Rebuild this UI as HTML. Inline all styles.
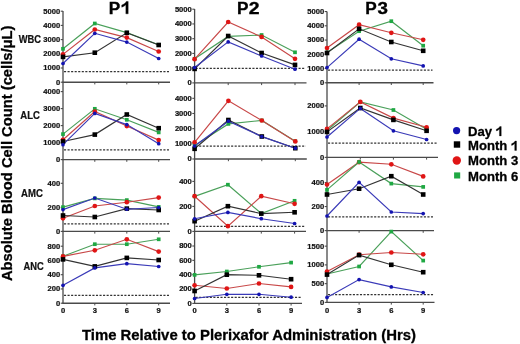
<!DOCTYPE html>
<html><head><meta charset="utf-8"><style>
html,body{margin:0;padding:0;background:#fff;}
body{width:520px;height:344px;overflow:hidden;}
svg{display:block;will-change:transform;}
text{font-family:"Liberation Sans", sans-serif;font-weight:bold;fill:#111;stroke:#111;stroke-width:0.22px;}
.t{font-size:7.6px;}
.r{font-size:10px;}
.p{font-size:17.2px;fill:#000;stroke:#000;stroke-width:0.35px;}
.ax{font-size:14.8px;fill:#000;stroke:#000;stroke-width:0.3px;}
.lg{font-size:13.1px;fill:#000;stroke:#000;stroke-width:0.3px;}
</style></head><body>
<svg width="520" height="344" viewBox="0 0 520 344">
<rect width="520" height="344" fill="#fff"/>
<line x1="63" y1="11.1" x2="63" y2="303.6" stroke="#4a4a4a" stroke-width="1.3"/>
<line x1="194.6" y1="9.1" x2="194.6" y2="304.1" stroke="#4a4a4a" stroke-width="1.3"/>
<line x1="327" y1="11.4" x2="327" y2="303.1" stroke="#4a4a4a" stroke-width="1.3"/>
<line x1="62.4" y1="82.2" x2="170" y2="82.2" stroke="#4a4a4a" stroke-width="1.4"/>
<line x1="94.8" y1="82.2" x2="94.8" y2="84.4" stroke="#4a4a4a" stroke-width="1"/>
<line x1="126.8" y1="82.2" x2="126.8" y2="84.4" stroke="#4a4a4a" stroke-width="1"/>
<line x1="158.7" y1="82.2" x2="158.7" y2="84.4" stroke="#4a4a4a" stroke-width="1"/>
<line x1="60.7" y1="82.20" x2="63" y2="82.20" stroke="#4a4a4a" stroke-width="1.1"/>
<text x="60.2" y="84.60" text-anchor="end" class="t">0</text>
<line x1="60.7" y1="68.00" x2="63" y2="68.00" stroke="#4a4a4a" stroke-width="1.1"/>
<text x="60.2" y="70.40" text-anchor="end" class="t">1000</text>
<line x1="60.7" y1="53.80" x2="63" y2="53.80" stroke="#4a4a4a" stroke-width="1.1"/>
<text x="60.2" y="56.20" text-anchor="end" class="t">2000</text>
<line x1="60.7" y1="39.60" x2="63" y2="39.60" stroke="#4a4a4a" stroke-width="1.1"/>
<text x="60.2" y="42.00" text-anchor="end" class="t">3000</text>
<line x1="60.7" y1="25.40" x2="63" y2="25.40" stroke="#4a4a4a" stroke-width="1.1"/>
<text x="60.2" y="27.80" text-anchor="end" class="t">4000</text>
<line x1="60.7" y1="11.20" x2="63" y2="11.20" stroke="#4a4a4a" stroke-width="1.1"/>
<text x="60.2" y="13.60" text-anchor="end" class="t">5000</text>
<line x1="64" y1="71.6" x2="169" y2="71.6" stroke="#333" stroke-width="1.3" stroke-dasharray="2.1 1.45"/>
<line x1="194.0" y1="82.9" x2="306.5" y2="82.9" stroke="#4a4a4a" stroke-width="1.4"/>
<line x1="228.2" y1="82.9" x2="228.2" y2="85.10000000000001" stroke="#4a4a4a" stroke-width="1"/>
<line x1="261.6" y1="82.9" x2="261.6" y2="85.10000000000001" stroke="#4a4a4a" stroke-width="1"/>
<line x1="295.0" y1="82.9" x2="295.0" y2="85.10000000000001" stroke="#4a4a4a" stroke-width="1"/>
<line x1="192.29999999999998" y1="82.90" x2="194.6" y2="82.90" stroke="#4a4a4a" stroke-width="1.1"/>
<text x="191.79999999999998" y="85.30" text-anchor="end" class="t">0</text>
<line x1="192.29999999999998" y1="68.16" x2="194.6" y2="68.16" stroke="#4a4a4a" stroke-width="1.1"/>
<text x="191.79999999999998" y="70.56" text-anchor="end" class="t">1000</text>
<line x1="192.29999999999998" y1="53.42" x2="194.6" y2="53.42" stroke="#4a4a4a" stroke-width="1.1"/>
<text x="191.79999999999998" y="55.82" text-anchor="end" class="t">2000</text>
<line x1="192.29999999999998" y1="38.68" x2="194.6" y2="38.68" stroke="#4a4a4a" stroke-width="1.1"/>
<text x="191.79999999999998" y="41.08" text-anchor="end" class="t">3000</text>
<line x1="192.29999999999998" y1="23.94" x2="194.6" y2="23.94" stroke="#4a4a4a" stroke-width="1.1"/>
<text x="191.79999999999998" y="26.34" text-anchor="end" class="t">4000</text>
<line x1="192.29999999999998" y1="9.20" x2="194.6" y2="9.20" stroke="#4a4a4a" stroke-width="1.1"/>
<text x="191.79999999999998" y="11.60" text-anchor="end" class="t">5000</text>
<line x1="195.6" y1="68.4" x2="305.5" y2="68.4" stroke="#333" stroke-width="1.3" stroke-dasharray="2.1 1.45"/>
<line x1="326.4" y1="82.8" x2="433.5" y2="82.8" stroke="#4a4a4a" stroke-width="1.4"/>
<line x1="359.1" y1="82.8" x2="359.1" y2="85.0" stroke="#4a4a4a" stroke-width="1"/>
<line x1="391.3" y1="82.8" x2="391.3" y2="85.0" stroke="#4a4a4a" stroke-width="1"/>
<line x1="423.2" y1="82.8" x2="423.2" y2="85.0" stroke="#4a4a4a" stroke-width="1"/>
<line x1="324.7" y1="82.80" x2="327" y2="82.80" stroke="#4a4a4a" stroke-width="1.1"/>
<text x="324.2" y="85.20" text-anchor="end" class="t">0</text>
<line x1="324.7" y1="68.55" x2="327" y2="68.55" stroke="#4a4a4a" stroke-width="1.1"/>
<text x="324.2" y="70.95" text-anchor="end" class="t">1000</text>
<line x1="324.7" y1="54.30" x2="327" y2="54.30" stroke="#4a4a4a" stroke-width="1.1"/>
<text x="324.2" y="56.70" text-anchor="end" class="t">2000</text>
<line x1="324.7" y1="40.05" x2="327" y2="40.05" stroke="#4a4a4a" stroke-width="1.1"/>
<text x="324.2" y="42.45" text-anchor="end" class="t">3000</text>
<line x1="324.7" y1="25.80" x2="327" y2="25.80" stroke="#4a4a4a" stroke-width="1.1"/>
<text x="324.2" y="28.20" text-anchor="end" class="t">4000</text>
<line x1="324.7" y1="11.55" x2="327" y2="11.55" stroke="#4a4a4a" stroke-width="1.1"/>
<text x="324.2" y="13.95" text-anchor="end" class="t">5000</text>
<line x1="328" y1="70.1" x2="432.5" y2="70.1" stroke="#333" stroke-width="1.3" stroke-dasharray="2.1 1.45"/>
<line x1="62.4" y1="159.6" x2="170" y2="159.6" stroke="#4a4a4a" stroke-width="1.4"/>
<line x1="94.8" y1="159.6" x2="94.8" y2="161.79999999999998" stroke="#4a4a4a" stroke-width="1"/>
<line x1="126.8" y1="159.6" x2="126.8" y2="161.79999999999998" stroke="#4a4a4a" stroke-width="1"/>
<line x1="158.7" y1="159.6" x2="158.7" y2="161.79999999999998" stroke="#4a4a4a" stroke-width="1"/>
<line x1="60.7" y1="159.60" x2="63" y2="159.60" stroke="#4a4a4a" stroke-width="1.1"/>
<text x="60.2" y="162.00" text-anchor="end" class="t">0</text>
<line x1="60.7" y1="142.60" x2="63" y2="142.60" stroke="#4a4a4a" stroke-width="1.1"/>
<text x="60.2" y="145.00" text-anchor="end" class="t">1000</text>
<line x1="60.7" y1="125.60" x2="63" y2="125.60" stroke="#4a4a4a" stroke-width="1.1"/>
<text x="60.2" y="128.00" text-anchor="end" class="t">2000</text>
<line x1="60.7" y1="108.60" x2="63" y2="108.60" stroke="#4a4a4a" stroke-width="1.1"/>
<text x="60.2" y="111.00" text-anchor="end" class="t">3000</text>
<line x1="60.7" y1="91.60" x2="63" y2="91.60" stroke="#4a4a4a" stroke-width="1.1"/>
<text x="60.2" y="94.00" text-anchor="end" class="t">4000</text>
<line x1="64" y1="149.9" x2="169" y2="149.9" stroke="#333" stroke-width="1.3" stroke-dasharray="2.1 1.45"/>
<line x1="194.0" y1="159.0" x2="306.8" y2="159.0" stroke="#4a4a4a" stroke-width="1.4"/>
<line x1="228.4" y1="159.0" x2="228.4" y2="161.2" stroke="#4a4a4a" stroke-width="1"/>
<line x1="261.8" y1="159.0" x2="261.8" y2="161.2" stroke="#4a4a4a" stroke-width="1"/>
<line x1="295.3" y1="159.0" x2="295.3" y2="161.2" stroke="#4a4a4a" stroke-width="1"/>
<line x1="192.29999999999998" y1="159.00" x2="194.6" y2="159.00" stroke="#4a4a4a" stroke-width="1.1"/>
<text x="191.79999999999998" y="161.40" text-anchor="end" class="t">0</text>
<line x1="192.29999999999998" y1="143.83" x2="194.6" y2="143.83" stroke="#4a4a4a" stroke-width="1.1"/>
<text x="191.79999999999998" y="146.23" text-anchor="end" class="t">1000</text>
<line x1="192.29999999999998" y1="128.66" x2="194.6" y2="128.66" stroke="#4a4a4a" stroke-width="1.1"/>
<text x="191.79999999999998" y="131.06" text-anchor="end" class="t">2000</text>
<line x1="192.29999999999998" y1="113.49" x2="194.6" y2="113.49" stroke="#4a4a4a" stroke-width="1.1"/>
<text x="191.79999999999998" y="115.89" text-anchor="end" class="t">3000</text>
<line x1="192.29999999999998" y1="98.32" x2="194.6" y2="98.32" stroke="#4a4a4a" stroke-width="1.1"/>
<text x="191.79999999999998" y="100.72" text-anchor="end" class="t">4000</text>
<line x1="195.6" y1="146.1" x2="305.8" y2="146.1" stroke="#333" stroke-width="1.3" stroke-dasharray="2.1 1.45"/>
<line x1="326.4" y1="157.4" x2="438" y2="157.4" stroke="#4a4a4a" stroke-width="1.4"/>
<line x1="360.3" y1="157.4" x2="360.3" y2="159.6" stroke="#4a4a4a" stroke-width="1"/>
<line x1="393.4" y1="157.4" x2="393.4" y2="159.6" stroke="#4a4a4a" stroke-width="1"/>
<line x1="426.6" y1="157.4" x2="426.6" y2="159.6" stroke="#4a4a4a" stroke-width="1"/>
<line x1="324.7" y1="157.40" x2="327" y2="157.40" stroke="#4a4a4a" stroke-width="1.1"/>
<text x="324.2" y="159.80" text-anchor="end" class="t">0</text>
<line x1="324.7" y1="131.65" x2="327" y2="131.65" stroke="#4a4a4a" stroke-width="1.1"/>
<text x="324.2" y="134.05" text-anchor="end" class="t">1000</text>
<line x1="324.7" y1="105.90" x2="327" y2="105.90" stroke="#4a4a4a" stroke-width="1.1"/>
<text x="324.2" y="108.30" text-anchor="end" class="t">2000</text>
<line x1="328" y1="143.2" x2="437" y2="143.2" stroke="#333" stroke-width="1.3" stroke-dasharray="2.1 1.45"/>
<line x1="62.4" y1="231.4" x2="170" y2="231.4" stroke="#4a4a4a" stroke-width="1.4"/>
<line x1="94.8" y1="231.4" x2="94.8" y2="233.6" stroke="#4a4a4a" stroke-width="1"/>
<line x1="126.8" y1="231.4" x2="126.8" y2="233.6" stroke="#4a4a4a" stroke-width="1"/>
<line x1="158.7" y1="231.4" x2="158.7" y2="233.6" stroke="#4a4a4a" stroke-width="1"/>
<line x1="60.7" y1="231.40" x2="63" y2="231.40" stroke="#4a4a4a" stroke-width="1.1"/>
<text x="60.2" y="233.80" text-anchor="end" class="t">0</text>
<line x1="60.7" y1="207.35" x2="63" y2="207.35" stroke="#4a4a4a" stroke-width="1.1"/>
<text x="60.2" y="209.75" text-anchor="end" class="t">200</text>
<line x1="60.7" y1="183.30" x2="63" y2="183.30" stroke="#4a4a4a" stroke-width="1.1"/>
<text x="60.2" y="185.70" text-anchor="end" class="t">400</text>
<line x1="64" y1="223.8" x2="169" y2="223.8" stroke="#333" stroke-width="1.3" stroke-dasharray="2.1 1.45"/>
<line x1="194.0" y1="231.4" x2="306" y2="231.4" stroke="#4a4a4a" stroke-width="1.4"/>
<line x1="227.9" y1="231.4" x2="227.9" y2="233.6" stroke="#4a4a4a" stroke-width="1"/>
<line x1="261.3" y1="231.4" x2="261.3" y2="233.6" stroke="#4a4a4a" stroke-width="1"/>
<line x1="294.6" y1="231.4" x2="294.6" y2="233.6" stroke="#4a4a4a" stroke-width="1"/>
<line x1="192.29999999999998" y1="231.40" x2="194.6" y2="231.40" stroke="#4a4a4a" stroke-width="1.1"/>
<text x="191.79999999999998" y="233.80" text-anchor="end" class="t">0</text>
<line x1="192.29999999999998" y1="206.40" x2="194.6" y2="206.40" stroke="#4a4a4a" stroke-width="1.1"/>
<text x="191.79999999999998" y="208.80" text-anchor="end" class="t">200</text>
<line x1="192.29999999999998" y1="181.40" x2="194.6" y2="181.40" stroke="#4a4a4a" stroke-width="1.1"/>
<text x="191.79999999999998" y="183.80" text-anchor="end" class="t">400</text>
<line x1="195.6" y1="226.4" x2="305" y2="226.4" stroke="#333" stroke-width="1.3" stroke-dasharray="2.1 1.45"/>
<line x1="326.4" y1="230.6" x2="434" y2="230.6" stroke="#4a4a4a" stroke-width="1.4"/>
<line x1="359.1" y1="230.6" x2="359.1" y2="232.79999999999998" stroke="#4a4a4a" stroke-width="1"/>
<line x1="391.3" y1="230.6" x2="391.3" y2="232.79999999999998" stroke="#4a4a4a" stroke-width="1"/>
<line x1="423.2" y1="230.6" x2="423.2" y2="232.79999999999998" stroke="#4a4a4a" stroke-width="1"/>
<line x1="324.7" y1="230.60" x2="327" y2="230.60" stroke="#4a4a4a" stroke-width="1.1"/>
<text x="324.2" y="233.00" text-anchor="end" class="t">0</text>
<line x1="324.7" y1="206.55" x2="327" y2="206.55" stroke="#4a4a4a" stroke-width="1.1"/>
<text x="324.2" y="208.95" text-anchor="end" class="t">200</text>
<line x1="324.7" y1="182.50" x2="327" y2="182.50" stroke="#4a4a4a" stroke-width="1.1"/>
<text x="324.2" y="184.90" text-anchor="end" class="t">400</text>
<line x1="328" y1="216.9" x2="433" y2="216.9" stroke="#333" stroke-width="1.3" stroke-dasharray="2.1 1.45"/>
<line x1="62.4" y1="303.2" x2="170" y2="303.2" stroke="#4a4a4a" stroke-width="1.4"/>
<line x1="94.8" y1="303.2" x2="94.8" y2="305.4" stroke="#4a4a4a" stroke-width="1"/>
<line x1="126.8" y1="303.2" x2="126.8" y2="305.4" stroke="#4a4a4a" stroke-width="1"/>
<line x1="158.7" y1="303.2" x2="158.7" y2="305.4" stroke="#4a4a4a" stroke-width="1"/>
<line x1="60.7" y1="303.20" x2="63" y2="303.20" stroke="#4a4a4a" stroke-width="1.1"/>
<text x="60.2" y="305.60" text-anchor="end" class="t">0</text>
<line x1="60.7" y1="288.95" x2="63" y2="288.95" stroke="#4a4a4a" stroke-width="1.1"/>
<text x="60.2" y="291.35" text-anchor="end" class="t">200</text>
<line x1="60.7" y1="274.70" x2="63" y2="274.70" stroke="#4a4a4a" stroke-width="1.1"/>
<text x="60.2" y="277.10" text-anchor="end" class="t">400</text>
<line x1="60.7" y1="260.45" x2="63" y2="260.45" stroke="#4a4a4a" stroke-width="1.1"/>
<text x="60.2" y="262.85" text-anchor="end" class="t">600</text>
<line x1="60.7" y1="246.20" x2="63" y2="246.20" stroke="#4a4a4a" stroke-width="1.1"/>
<text x="60.2" y="248.60" text-anchor="end" class="t">800</text>
<line x1="64" y1="295.4" x2="169" y2="295.4" stroke="#333" stroke-width="1.3" stroke-dasharray="2.1 1.45"/>
<line x1="194.0" y1="303.4" x2="302" y2="303.4" stroke="#4a4a4a" stroke-width="1.4"/>
<line x1="226.8" y1="303.4" x2="226.8" y2="305.59999999999997" stroke="#4a4a4a" stroke-width="1"/>
<line x1="259.0" y1="303.4" x2="259.0" y2="305.59999999999997" stroke="#4a4a4a" stroke-width="1"/>
<line x1="291.1" y1="303.4" x2="291.1" y2="305.59999999999997" stroke="#4a4a4a" stroke-width="1"/>
<line x1="192.29999999999998" y1="303.40" x2="194.6" y2="303.40" stroke="#4a4a4a" stroke-width="1.1"/>
<text x="191.79999999999998" y="305.80" text-anchor="end" class="t">0</text>
<line x1="192.29999999999998" y1="289.05" x2="194.6" y2="289.05" stroke="#4a4a4a" stroke-width="1.1"/>
<text x="191.79999999999998" y="291.45" text-anchor="end" class="t">200</text>
<line x1="192.29999999999998" y1="274.70" x2="194.6" y2="274.70" stroke="#4a4a4a" stroke-width="1.1"/>
<text x="191.79999999999998" y="277.10" text-anchor="end" class="t">400</text>
<line x1="192.29999999999998" y1="260.35" x2="194.6" y2="260.35" stroke="#4a4a4a" stroke-width="1.1"/>
<text x="191.79999999999998" y="262.75" text-anchor="end" class="t">600</text>
<line x1="192.29999999999998" y1="246.00" x2="194.6" y2="246.00" stroke="#4a4a4a" stroke-width="1.1"/>
<text x="191.79999999999998" y="248.40" text-anchor="end" class="t">800</text>
<line x1="195.6" y1="297.3" x2="301" y2="297.3" stroke="#333" stroke-width="1.3" stroke-dasharray="2.1 1.45"/>
<line x1="326.4" y1="302.4" x2="434.5" y2="302.4" stroke="#4a4a4a" stroke-width="1.4"/>
<line x1="359.1" y1="302.4" x2="359.1" y2="304.59999999999997" stroke="#4a4a4a" stroke-width="1"/>
<line x1="391.3" y1="302.4" x2="391.3" y2="304.59999999999997" stroke="#4a4a4a" stroke-width="1"/>
<line x1="423.2" y1="302.4" x2="423.2" y2="304.59999999999997" stroke="#4a4a4a" stroke-width="1"/>
<line x1="324.7" y1="302.40" x2="327" y2="302.40" stroke="#4a4a4a" stroke-width="1.1"/>
<text x="324.2" y="304.80" text-anchor="end" class="t">0</text>
<line x1="324.7" y1="283.65" x2="327" y2="283.65" stroke="#4a4a4a" stroke-width="1.1"/>
<text x="324.2" y="286.05" text-anchor="end" class="t">500</text>
<line x1="324.7" y1="264.90" x2="327" y2="264.90" stroke="#4a4a4a" stroke-width="1.1"/>
<text x="324.2" y="267.30" text-anchor="end" class="t">1000</text>
<line x1="324.7" y1="246.15" x2="327" y2="246.15" stroke="#4a4a4a" stroke-width="1.1"/>
<text x="324.2" y="248.55" text-anchor="end" class="t">1500</text>
<line x1="328" y1="294.7" x2="433.5" y2="294.7" stroke="#333" stroke-width="1.3" stroke-dasharray="2.1 1.45"/>
<polyline points="63,48.8 94.8,23.5 126.8,32.6 158.7,44.8" fill="none" stroke="#4aa05a" stroke-width="1.15"/>
<polyline points="63,54.4 94.8,29.5 126.8,37.6 158.7,51.5" fill="none" stroke="#c84848" stroke-width="1.15"/>
<polyline points="63,56.9 94.8,52.7 126.8,32.8 158.7,45.0" fill="none" stroke="#333333" stroke-width="1.15"/>
<polyline points="63,63.5 94.8,33.3 126.8,42.1 158.7,58.5" fill="none" stroke="#3a3ab8" stroke-width="1.15"/>
<rect x="61.15" y="46.95" width="3.7" height="3.7" fill="#1fa843"/>
<rect x="92.95" y="21.65" width="3.7" height="3.7" fill="#1fa843"/>
<rect x="124.95" y="30.75" width="3.7" height="3.7" fill="#1fa843"/>
<rect x="156.85" y="42.95" width="3.7" height="3.7" fill="#1fa843"/>
<circle cx="63" cy="54.4" r="2.35" fill="#e01515"/>
<circle cx="94.8" cy="29.5" r="2.35" fill="#e01515"/>
<circle cx="126.8" cy="37.6" r="2.35" fill="#e01515"/>
<circle cx="158.7" cy="51.5" r="2.35" fill="#e01515"/>
<rect x="60.70" y="54.60" width="4.6" height="4.6" fill="#000000"/>
<rect x="92.50" y="50.40" width="4.6" height="4.6" fill="#000000"/>
<rect x="124.50" y="30.50" width="4.6" height="4.6" fill="#000000"/>
<rect x="156.40" y="42.70" width="4.6" height="4.6" fill="#000000"/>
<circle cx="63" cy="63.5" r="1.85" fill="#1313b0"/>
<circle cx="94.8" cy="33.3" r="1.85" fill="#1313b0"/>
<circle cx="126.8" cy="42.1" r="1.85" fill="#1313b0"/>
<circle cx="158.7" cy="58.5" r="1.85" fill="#1313b0"/>
<polyline points="194.6,58.8 228.2,36.4 261.6,35.0 295.0,52.3" fill="none" stroke="#4aa05a" stroke-width="1.15"/>
<polyline points="194.6,59.2 228.2,22.0 261.6,36.9 295.0,58.8" fill="none" stroke="#c84848" stroke-width="1.15"/>
<polyline points="194.6,68.9 228.2,36.0 261.6,53.0 295.0,64.9" fill="none" stroke="#333333" stroke-width="1.15"/>
<polyline points="194.6,67.5 228.2,41.9 261.6,56.0 295.0,69.2" fill="none" stroke="#3a3ab8" stroke-width="1.15"/>
<rect x="192.75" y="56.95" width="3.7" height="3.7" fill="#1fa843"/>
<rect x="226.35" y="34.55" width="3.7" height="3.7" fill="#1fa843"/>
<rect x="259.75" y="33.15" width="3.7" height="3.7" fill="#1fa843"/>
<rect x="293.15" y="50.45" width="3.7" height="3.7" fill="#1fa843"/>
<circle cx="194.6" cy="59.2" r="2.35" fill="#e01515"/>
<circle cx="228.2" cy="22.0" r="2.35" fill="#e01515"/>
<circle cx="261.6" cy="36.9" r="2.35" fill="#e01515"/>
<circle cx="295.0" cy="58.8" r="2.35" fill="#e01515"/>
<rect x="192.30" y="66.60" width="4.6" height="4.6" fill="#000000"/>
<rect x="225.90" y="33.70" width="4.6" height="4.6" fill="#000000"/>
<rect x="259.30" y="50.70" width="4.6" height="4.6" fill="#000000"/>
<rect x="292.70" y="62.60" width="4.6" height="4.6" fill="#000000"/>
<circle cx="194.6" cy="67.5" r="1.85" fill="#1313b0"/>
<circle cx="228.2" cy="41.9" r="1.85" fill="#1313b0"/>
<circle cx="261.6" cy="56.0" r="1.85" fill="#1313b0"/>
<circle cx="295.0" cy="69.2" r="1.85" fill="#1313b0"/>
<polyline points="327,52.6 359.1,31.2 391.3,21.2 423.2,45.7" fill="none" stroke="#4aa05a" stroke-width="1.15"/>
<polyline points="327,48.0 359.1,24.7 391.3,32.8 423.2,39.8" fill="none" stroke="#c84848" stroke-width="1.15"/>
<polyline points="327,53.0 359.1,28.8 391.3,42.0 423.2,50.8" fill="none" stroke="#333333" stroke-width="1.15"/>
<polyline points="327,67.6 359.1,39.2 391.3,58.8 423.2,65.9" fill="none" stroke="#3a3ab8" stroke-width="1.15"/>
<rect x="325.15" y="50.75" width="3.7" height="3.7" fill="#1fa843"/>
<rect x="357.25" y="29.35" width="3.7" height="3.7" fill="#1fa843"/>
<rect x="389.45" y="19.35" width="3.7" height="3.7" fill="#1fa843"/>
<rect x="421.35" y="43.85" width="3.7" height="3.7" fill="#1fa843"/>
<circle cx="327" cy="48.0" r="2.35" fill="#e01515"/>
<circle cx="359.1" cy="24.7" r="2.35" fill="#e01515"/>
<circle cx="391.3" cy="32.8" r="2.35" fill="#e01515"/>
<circle cx="423.2" cy="39.8" r="2.35" fill="#e01515"/>
<rect x="324.70" y="50.70" width="4.6" height="4.6" fill="#000000"/>
<rect x="356.80" y="26.50" width="4.6" height="4.6" fill="#000000"/>
<rect x="389.00" y="39.70" width="4.6" height="4.6" fill="#000000"/>
<rect x="420.90" y="48.50" width="4.6" height="4.6" fill="#000000"/>
<circle cx="327" cy="67.6" r="1.85" fill="#1313b0"/>
<circle cx="359.1" cy="39.2" r="1.85" fill="#1313b0"/>
<circle cx="391.3" cy="58.8" r="1.85" fill="#1313b0"/>
<circle cx="423.2" cy="65.9" r="1.85" fill="#1313b0"/>
<polyline points="63,134.1 94.8,108.8 126.8,119.8 158.7,132.4" fill="none" stroke="#4aa05a" stroke-width="1.15"/>
<polyline points="63,139.8 94.8,111.5 126.8,126.1 158.7,140.1" fill="none" stroke="#c84848" stroke-width="1.15"/>
<polyline points="63,141.5 94.8,134.6 126.8,114.5 158.7,128.2" fill="none" stroke="#333333" stroke-width="1.15"/>
<polyline points="63,144.7 94.8,113.4 126.8,124.6 158.7,143.7" fill="none" stroke="#3a3ab8" stroke-width="1.15"/>
<rect x="61.15" y="132.25" width="3.7" height="3.7" fill="#1fa843"/>
<rect x="92.95" y="106.95" width="3.7" height="3.7" fill="#1fa843"/>
<rect x="124.95" y="117.95" width="3.7" height="3.7" fill="#1fa843"/>
<rect x="156.85" y="130.55" width="3.7" height="3.7" fill="#1fa843"/>
<circle cx="63" cy="139.8" r="2.35" fill="#e01515"/>
<circle cx="94.8" cy="111.5" r="2.35" fill="#e01515"/>
<circle cx="126.8" cy="126.1" r="2.35" fill="#e01515"/>
<circle cx="158.7" cy="140.1" r="2.35" fill="#e01515"/>
<rect x="60.70" y="139.20" width="4.6" height="4.6" fill="#000000"/>
<rect x="92.50" y="132.30" width="4.6" height="4.6" fill="#000000"/>
<rect x="124.50" y="112.20" width="4.6" height="4.6" fill="#000000"/>
<rect x="156.40" y="125.90" width="4.6" height="4.6" fill="#000000"/>
<circle cx="63" cy="144.7" r="1.85" fill="#1313b0"/>
<circle cx="94.8" cy="113.4" r="1.85" fill="#1313b0"/>
<circle cx="126.8" cy="124.6" r="1.85" fill="#1313b0"/>
<circle cx="158.7" cy="143.7" r="1.85" fill="#1313b0"/>
<polyline points="194.6,145.5 228.4,123.9 261.8,120.4 295.3,141.2" fill="none" stroke="#4aa05a" stroke-width="1.15"/>
<polyline points="194.6,142.3 228.4,100.8 261.8,120.5 295.3,141.4" fill="none" stroke="#c84848" stroke-width="1.15"/>
<polyline points="194.6,148.8 228.4,120.0 261.8,136.5 295.3,148.2" fill="none" stroke="#333333" stroke-width="1.15"/>
<polyline points="194.6,146.0 228.4,121.2 261.8,136.6 295.3,148.2" fill="none" stroke="#3a3ab8" stroke-width="1.15"/>
<rect x="192.75" y="143.65" width="3.7" height="3.7" fill="#1fa843"/>
<rect x="226.55" y="122.05" width="3.7" height="3.7" fill="#1fa843"/>
<rect x="259.95" y="118.55" width="3.7" height="3.7" fill="#1fa843"/>
<rect x="293.45" y="139.35" width="3.7" height="3.7" fill="#1fa843"/>
<circle cx="194.6" cy="142.3" r="2.35" fill="#e01515"/>
<circle cx="228.4" cy="100.8" r="2.35" fill="#e01515"/>
<circle cx="261.8" cy="120.5" r="2.35" fill="#e01515"/>
<circle cx="295.3" cy="141.4" r="2.35" fill="#e01515"/>
<rect x="192.30" y="146.50" width="4.6" height="4.6" fill="#000000"/>
<rect x="226.10" y="117.70" width="4.6" height="4.6" fill="#000000"/>
<rect x="259.50" y="134.20" width="4.6" height="4.6" fill="#000000"/>
<rect x="293.00" y="145.90" width="4.6" height="4.6" fill="#000000"/>
<circle cx="194.6" cy="146.0" r="1.85" fill="#1313b0"/>
<circle cx="228.4" cy="121.2" r="1.85" fill="#1313b0"/>
<circle cx="261.8" cy="136.6" r="1.85" fill="#1313b0"/>
<circle cx="295.3" cy="148.2" r="1.85" fill="#1313b0"/>
<polyline points="327,130.5 360.3,102.0 393.4,110.0 426.6,129.2" fill="none" stroke="#4aa05a" stroke-width="1.15"/>
<polyline points="327,128.9 360.3,101.9 393.4,118.1 426.6,127.3" fill="none" stroke="#c84848" stroke-width="1.15"/>
<polyline points="327,131.9 360.3,108.0 393.4,119.9 426.6,130.8" fill="none" stroke="#333333" stroke-width="1.15"/>
<polyline points="327,137.0 360.3,108.4 393.4,130.8 426.6,139.5" fill="none" stroke="#3a3ab8" stroke-width="1.15"/>
<rect x="325.15" y="128.65" width="3.7" height="3.7" fill="#1fa843"/>
<rect x="358.45" y="100.15" width="3.7" height="3.7" fill="#1fa843"/>
<rect x="391.55" y="108.15" width="3.7" height="3.7" fill="#1fa843"/>
<rect x="424.75" y="127.35" width="3.7" height="3.7" fill="#1fa843"/>
<circle cx="327" cy="128.9" r="2.35" fill="#e01515"/>
<circle cx="360.3" cy="101.9" r="2.35" fill="#e01515"/>
<circle cx="393.4" cy="118.1" r="2.35" fill="#e01515"/>
<circle cx="426.6" cy="127.3" r="2.35" fill="#e01515"/>
<rect x="324.70" y="129.60" width="4.6" height="4.6" fill="#000000"/>
<rect x="358.00" y="105.70" width="4.6" height="4.6" fill="#000000"/>
<rect x="391.10" y="117.60" width="4.6" height="4.6" fill="#000000"/>
<rect x="424.30" y="128.50" width="4.6" height="4.6" fill="#000000"/>
<circle cx="327" cy="137.0" r="1.85" fill="#1313b0"/>
<circle cx="360.3" cy="108.4" r="1.85" fill="#1313b0"/>
<circle cx="393.4" cy="130.8" r="1.85" fill="#1313b0"/>
<circle cx="426.6" cy="139.5" r="1.85" fill="#1313b0"/>
<polyline points="63,207.1 94.8,198.4 126.8,200.1 158.7,206.9" fill="none" stroke="#4aa05a" stroke-width="1.15"/>
<polyline points="63,218.3 94.8,206.0 126.8,202.2 158.7,197.6" fill="none" stroke="#c84848" stroke-width="1.15"/>
<polyline points="63,215.5 94.8,217.0 126.8,208.6 158.7,210.0" fill="none" stroke="#333333" stroke-width="1.15"/>
<polyline points="63,209.6 94.8,198.0 126.8,209.2 158.7,207.5" fill="none" stroke="#3a3ab8" stroke-width="1.15"/>
<rect x="61.15" y="205.25" width="3.7" height="3.7" fill="#1fa843"/>
<rect x="92.95" y="196.55" width="3.7" height="3.7" fill="#1fa843"/>
<rect x="124.95" y="198.25" width="3.7" height="3.7" fill="#1fa843"/>
<rect x="156.85" y="205.05" width="3.7" height="3.7" fill="#1fa843"/>
<circle cx="63" cy="218.3" r="2.35" fill="#e01515"/>
<circle cx="94.8" cy="206.0" r="2.35" fill="#e01515"/>
<circle cx="126.8" cy="202.2" r="2.35" fill="#e01515"/>
<circle cx="158.7" cy="197.6" r="2.35" fill="#e01515"/>
<rect x="60.70" y="213.20" width="4.6" height="4.6" fill="#000000"/>
<rect x="92.50" y="214.70" width="4.6" height="4.6" fill="#000000"/>
<rect x="124.50" y="206.30" width="4.6" height="4.6" fill="#000000"/>
<rect x="156.40" y="207.70" width="4.6" height="4.6" fill="#000000"/>
<circle cx="63" cy="209.6" r="1.85" fill="#1313b0"/>
<circle cx="94.8" cy="198.0" r="1.85" fill="#1313b0"/>
<circle cx="126.8" cy="209.2" r="1.85" fill="#1313b0"/>
<circle cx="158.7" cy="207.5" r="1.85" fill="#1313b0"/>
<polyline points="194.6,196.4 227.9,184.7 261.3,213.5 294.6,200.8" fill="none" stroke="#4aa05a" stroke-width="1.15"/>
<polyline points="194.6,196.2 227.9,226.2 261.3,196.2 294.6,203.8" fill="none" stroke="#c84848" stroke-width="1.15"/>
<polyline points="194.6,221.2 227.9,206.2 261.3,213.6 294.6,212.3" fill="none" stroke="#333333" stroke-width="1.15"/>
<polyline points="194.6,218.8 227.9,212.4 261.3,218.7 294.6,223.5" fill="none" stroke="#3a3ab8" stroke-width="1.15"/>
<rect x="192.75" y="194.55" width="3.7" height="3.7" fill="#1fa843"/>
<rect x="226.05" y="182.85" width="3.7" height="3.7" fill="#1fa843"/>
<rect x="259.45" y="211.65" width="3.7" height="3.7" fill="#1fa843"/>
<rect x="292.75" y="198.95" width="3.7" height="3.7" fill="#1fa843"/>
<circle cx="194.6" cy="196.2" r="2.35" fill="#e01515"/>
<circle cx="227.9" cy="226.2" r="2.35" fill="#e01515"/>
<circle cx="261.3" cy="196.2" r="2.35" fill="#e01515"/>
<circle cx="294.6" cy="203.8" r="2.35" fill="#e01515"/>
<rect x="192.30" y="218.90" width="4.6" height="4.6" fill="#000000"/>
<rect x="225.60" y="203.90" width="4.6" height="4.6" fill="#000000"/>
<rect x="259.00" y="211.30" width="4.6" height="4.6" fill="#000000"/>
<rect x="292.30" y="210.00" width="4.6" height="4.6" fill="#000000"/>
<circle cx="194.6" cy="218.8" r="1.85" fill="#1313b0"/>
<circle cx="227.9" cy="212.4" r="1.85" fill="#1313b0"/>
<circle cx="261.3" cy="218.7" r="1.85" fill="#1313b0"/>
<circle cx="294.6" cy="223.5" r="1.85" fill="#1313b0"/>
<polyline points="327,184.5 359.1,162.2 391.3,164.3 423.2,176.4" fill="none" stroke="#c84848" stroke-width="1.15"/>
<polyline points="327,189.9 359.1,162.0 391.3,183.6 423.2,186.9" fill="none" stroke="#4aa05a" stroke-width="1.15"/>
<polyline points="327,194.5 359.1,188.7 391.3,176.2 423.2,194.5" fill="none" stroke="#333333" stroke-width="1.15"/>
<polyline points="327,216.0 359.1,182.4 391.3,212.0 423.2,213.6" fill="none" stroke="#3a3ab8" stroke-width="1.15"/>
<circle cx="327" cy="184.5" r="2.35" fill="#e01515"/>
<circle cx="359.1" cy="162.2" r="2.35" fill="#e01515"/>
<circle cx="391.3" cy="164.3" r="2.35" fill="#e01515"/>
<circle cx="423.2" cy="176.4" r="2.35" fill="#e01515"/>
<rect x="325.15" y="188.05" width="3.7" height="3.7" fill="#1fa843"/>
<rect x="357.25" y="160.15" width="3.7" height="3.7" fill="#1fa843"/>
<rect x="389.45" y="181.75" width="3.7" height="3.7" fill="#1fa843"/>
<rect x="421.35" y="185.05" width="3.7" height="3.7" fill="#1fa843"/>
<rect x="324.70" y="192.20" width="4.6" height="4.6" fill="#000000"/>
<rect x="356.80" y="186.40" width="4.6" height="4.6" fill="#000000"/>
<rect x="389.00" y="173.90" width="4.6" height="4.6" fill="#000000"/>
<rect x="420.90" y="192.20" width="4.6" height="4.6" fill="#000000"/>
<circle cx="327" cy="216.0" r="1.85" fill="#1313b0"/>
<circle cx="359.1" cy="182.4" r="1.85" fill="#1313b0"/>
<circle cx="391.3" cy="212.0" r="1.85" fill="#1313b0"/>
<circle cx="423.2" cy="213.6" r="1.85" fill="#1313b0"/>
<polyline points="63,256.2 94.8,244.2 126.8,244.2 158.7,239.3" fill="none" stroke="#4aa05a" stroke-width="1.15"/>
<polyline points="63,256.4 94.8,250.3 126.8,239.3 158.7,251.6" fill="none" stroke="#c84848" stroke-width="1.15"/>
<polyline points="63,259.4 94.8,266.4 126.8,257.9 158.7,260.0" fill="none" stroke="#333333" stroke-width="1.15"/>
<polyline points="63,285.3 94.8,267.9 126.8,263.7 158.7,266.5" fill="none" stroke="#3a3ab8" stroke-width="1.15"/>
<rect x="61.15" y="254.35" width="3.7" height="3.7" fill="#1fa843"/>
<rect x="92.95" y="242.35" width="3.7" height="3.7" fill="#1fa843"/>
<rect x="124.95" y="242.35" width="3.7" height="3.7" fill="#1fa843"/>
<rect x="156.85" y="237.45" width="3.7" height="3.7" fill="#1fa843"/>
<circle cx="63" cy="256.4" r="2.35" fill="#e01515"/>
<circle cx="94.8" cy="250.3" r="2.35" fill="#e01515"/>
<circle cx="126.8" cy="239.3" r="2.35" fill="#e01515"/>
<circle cx="158.7" cy="251.6" r="2.35" fill="#e01515"/>
<rect x="60.70" y="257.10" width="4.6" height="4.6" fill="#000000"/>
<rect x="92.50" y="264.10" width="4.6" height="4.6" fill="#000000"/>
<rect x="124.50" y="255.60" width="4.6" height="4.6" fill="#000000"/>
<rect x="156.40" y="257.70" width="4.6" height="4.6" fill="#000000"/>
<circle cx="63" cy="285.3" r="1.85" fill="#1313b0"/>
<circle cx="94.8" cy="267.9" r="1.85" fill="#1313b0"/>
<circle cx="126.8" cy="263.7" r="1.85" fill="#1313b0"/>
<circle cx="158.7" cy="266.5" r="1.85" fill="#1313b0"/>
<polyline points="194.6,274.9 226.8,271.5 259.0,266.8 291.1,262.6" fill="none" stroke="#4aa05a" stroke-width="1.15"/>
<polyline points="194.6,285.3 226.8,288.5 259.0,283.5 291.1,286.9" fill="none" stroke="#c84848" stroke-width="1.15"/>
<polyline points="194.6,291.0 226.8,274.7 259.0,275.3 291.1,279.2" fill="none" stroke="#333333" stroke-width="1.15"/>
<polyline points="194.6,298.5 226.8,294.3 259.0,294.3 291.1,297.2" fill="none" stroke="#3a3ab8" stroke-width="1.15"/>
<rect x="192.75" y="273.05" width="3.7" height="3.7" fill="#1fa843"/>
<rect x="224.95" y="269.65" width="3.7" height="3.7" fill="#1fa843"/>
<rect x="257.15" y="264.95" width="3.7" height="3.7" fill="#1fa843"/>
<rect x="289.25" y="260.75" width="3.7" height="3.7" fill="#1fa843"/>
<circle cx="194.6" cy="285.3" r="2.35" fill="#e01515"/>
<circle cx="226.8" cy="288.5" r="2.35" fill="#e01515"/>
<circle cx="259.0" cy="283.5" r="2.35" fill="#e01515"/>
<circle cx="291.1" cy="286.9" r="2.35" fill="#e01515"/>
<rect x="192.30" y="288.70" width="4.6" height="4.6" fill="#000000"/>
<rect x="224.50" y="272.40" width="4.6" height="4.6" fill="#000000"/>
<rect x="256.70" y="273.00" width="4.6" height="4.6" fill="#000000"/>
<rect x="288.80" y="276.90" width="4.6" height="4.6" fill="#000000"/>
<circle cx="194.6" cy="298.5" r="1.85" fill="#1313b0"/>
<circle cx="226.8" cy="294.3" r="1.85" fill="#1313b0"/>
<circle cx="259.0" cy="294.3" r="1.85" fill="#1313b0"/>
<circle cx="291.1" cy="297.2" r="1.85" fill="#1313b0"/>
<polyline points="327,274.0 359.1,266.5 391.3,231.6 423.2,260.6" fill="none" stroke="#4aa05a" stroke-width="1.15"/>
<polyline points="327,271.5 359.1,254.7 391.3,252.5 423.2,254.3" fill="none" stroke="#c84848" stroke-width="1.15"/>
<polyline points="327,274.6 359.1,255.1 391.3,264.8 423.2,272.2" fill="none" stroke="#333333" stroke-width="1.15"/>
<polyline points="327,297.4 359.1,279.6 391.3,286.9 423.2,292.5" fill="none" stroke="#3a3ab8" stroke-width="1.15"/>
<rect x="325.15" y="272.15" width="3.7" height="3.7" fill="#1fa843"/>
<rect x="357.25" y="264.65" width="3.7" height="3.7" fill="#1fa843"/>
<rect x="389.45" y="229.75" width="3.7" height="3.7" fill="#1fa843"/>
<rect x="421.35" y="258.75" width="3.7" height="3.7" fill="#1fa843"/>
<circle cx="327" cy="271.5" r="2.35" fill="#e01515"/>
<circle cx="359.1" cy="254.7" r="2.35" fill="#e01515"/>
<circle cx="391.3" cy="252.5" r="2.35" fill="#e01515"/>
<circle cx="423.2" cy="254.3" r="2.35" fill="#e01515"/>
<rect x="324.70" y="272.30" width="4.6" height="4.6" fill="#000000"/>
<rect x="356.80" y="252.80" width="4.6" height="4.6" fill="#000000"/>
<rect x="389.00" y="262.50" width="4.6" height="4.6" fill="#000000"/>
<rect x="420.90" y="269.90" width="4.6" height="4.6" fill="#000000"/>
<circle cx="327" cy="297.4" r="1.85" fill="#1313b0"/>
<circle cx="359.1" cy="279.6" r="1.85" fill="#1313b0"/>
<circle cx="391.3" cy="286.9" r="1.85" fill="#1313b0"/>
<circle cx="423.2" cy="292.5" r="1.85" fill="#1313b0"/>
<text x="18.8" y="42.6" class="r" textLength="22.3" lengthAdjust="spacingAndGlyphs">WBC</text>
<text x="20.3" y="119.4" class="r" textLength="19.6" lengthAdjust="spacingAndGlyphs">ALC</text>
<text x="21.0" y="197.2" class="r" textLength="21.8" lengthAdjust="spacingAndGlyphs">AMC</text>
<text x="23.6" y="270.3" class="r" textLength="20.2" lengthAdjust="spacingAndGlyphs">ANC</text>
<text x="108.7" y="13.8" class="p">P</text>
<path transform="translate(121.00,13.8) scale(0.01720,0.01720)" d="M282,0 L418,0 L418,-716 L307,-716 Q270,-640 190,-585 Q120,-535 43,-510 L43,-383 Q110,-405 170,-440 Q235,-478 282,-520 Z" fill="#000" stroke="#000" stroke-width="20.3" stroke-linejoin="round"/>
<text x="236.9" y="13.8" class="p">P</text>
<g transform="translate(248.8,13.8) scale(1.13,1)"><text x="0" y="0" class="p">2</text></g>
<text x="365.3" y="13.8" class="p">P</text>
<g transform="translate(377.4,13.8) scale(1.09,1)"><text x="0" y="0" class="p">3</text></g>
<text x="63" y="313.2" text-anchor="middle" class="t">0</text>
<text x="94.8" y="313.2" text-anchor="middle" class="t">3</text>
<text x="126.8" y="313.2" text-anchor="middle" class="t">6</text>
<text x="158.7" y="313.2" text-anchor="middle" class="t">9</text>
<text x="194.6" y="313.2" text-anchor="middle" class="t">0</text>
<text x="226.8" y="313.2" text-anchor="middle" class="t">3</text>
<text x="259.0" y="313.2" text-anchor="middle" class="t">6</text>
<text x="291.1" y="313.2" text-anchor="middle" class="t">9</text>
<text x="327" y="313.2" text-anchor="middle" class="t">0</text>
<text x="359.1" y="313.2" text-anchor="middle" class="t">3</text>
<text x="391.3" y="313.2" text-anchor="middle" class="t">6</text>
<text x="423.2" y="313.2" text-anchor="middle" class="t">9</text>
<text x="82" y="339.8" class="ax" textLength="334" lengthAdjust="spacingAndGlyphs">Time Relative to Plerixafor Administration (Hrs)</text>
<text transform="translate(12.2,281.1) rotate(-90)" x="0" y="0" class="ax" style="font-size:15px" textLength="255.6" lengthAdjust="spacingAndGlyphs">Absolute Blood Cell Count (cells/μL)</text>
<circle cx="456.6" cy="130.6" r="3.6" fill="#1313b0"/>
<text x="468.1" y="135.9" class="lg" xml:space="preserve">Day </text>
<path transform="translate(495.77,135.9) scale(0.01310,0.01310)" d="M282,0 L418,0 L418,-716 L307,-716 Q270,-640 190,-585 Q120,-535 43,-510 L43,-383 Q110,-405 170,-440 Q235,-478 282,-520 Z" fill="#000" stroke="#000" stroke-width="22.9" stroke-linejoin="round"/>
<rect x="453.8" y="141.3" width="6.4" height="6.4" fill="#000000"/>
<text x="468.1" y="150.4" class="lg" xml:space="preserve">Month </text>
<path transform="translate(511.02,150.4) scale(0.01310,0.01310)" d="M282,0 L418,0 L418,-716 L307,-716 Q270,-640 190,-585 Q120,-535 43,-510 L43,-383 Q110,-405 170,-440 Q235,-478 282,-520 Z" fill="#000" stroke="#000" stroke-width="22.9" stroke-linejoin="round"/>
<circle cx="456.8" cy="160.5" r="4.2" fill="#e01515"/>
<text x="468.1" y="165.3" class="lg">Month 3</text>
<rect x="454.1" y="172.4" width="6.1" height="6.1" fill="#1fa843"/>
<text x="468.1" y="180.5" class="lg">Month 6</text>
</svg>
</body></html>
